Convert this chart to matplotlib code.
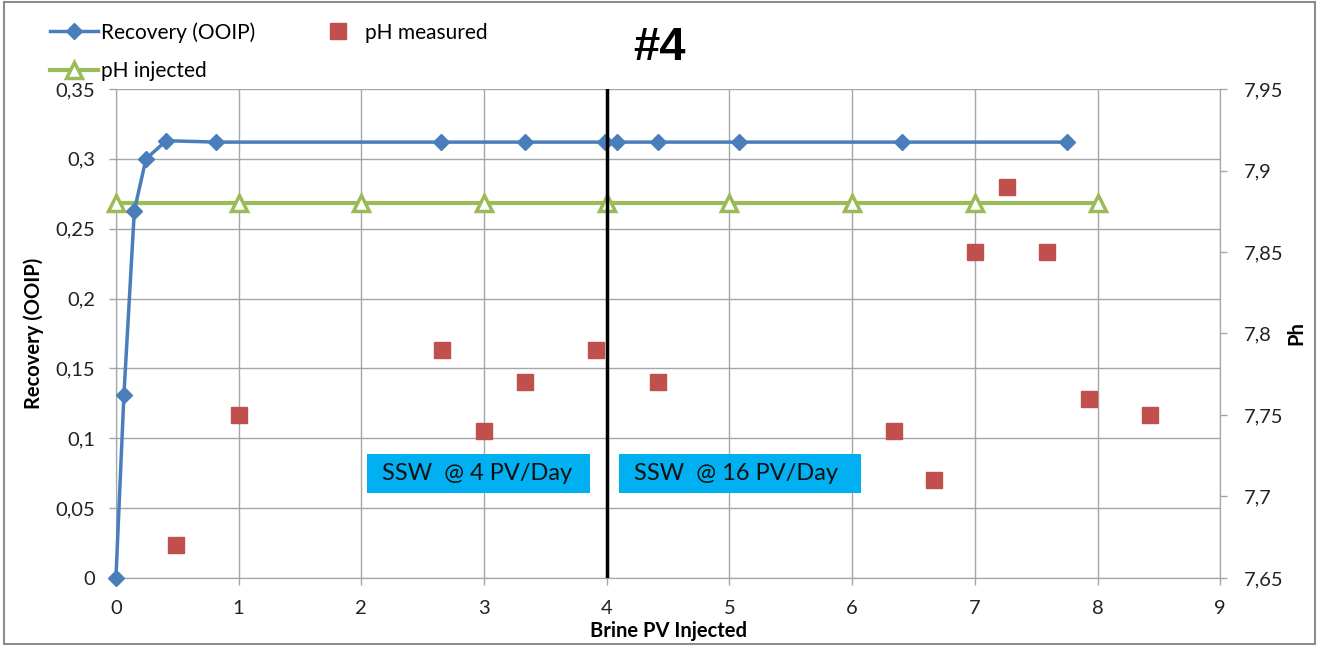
import matplotlib
matplotlib.use("Agg")
import matplotlib.pyplot as plt
from matplotlib.ticker import FuncFormatter, MultipleLocator
from matplotlib.patches import Rectangle

plt.rcParams['font.family'] = ['Lato', 'DejaVu Sans']

# Oil recovery vs. injected pore volumes
rec_pv = [0.0, 0.065, 0.15, 0.245, 0.41, 0.815, 2.65, 3.33, 3.99, 4.08, 4.42, 5.08, 6.41, 7.75]
rec_ooip = [0.0, 0.131, 0.263, 0.300, 0.313, 0.312, 0.312, 0.312, 0.312, 0.312, 0.312, 0.312, 0.312, 0.312]

# pH of injected brine
inj_pv = [0, 1, 2, 3, 4, 5, 6, 7, 8]
inj_ph = [7.88] * 9

# pH of effluent samples
meas_pv = [0.49, 1.0, 2.66, 3.0, 3.33, 3.91, 4.42, 6.34, 6.67, 7.0, 7.26, 7.59, 7.93, 8.43]
meas_ph = [7.67, 7.75, 7.79, 7.74, 7.77, 7.79, 7.77, 7.74, 7.71, 7.85, 7.89, 7.85, 7.76, 7.75]

x_ticks = list(range(0, 10))
switch_pv = 4

BLUE = '#4A7EBB'
GREEN = '#9BBB59'
RED = '#C0504D'
CYAN = '#00B0F0'
GRID = '#A6A6A6'

fig = plt.figure(figsize=(13.19, 6.46), dpi=100)
ax = fig.add_axes([0.0879, 0.1053, 0.8372, 0.7569])
ax2 = ax.twinx()

ax.set_xlim(0, 9)
ax.set_ylim(0, 0.35)
ax2.set_ylim(7.65, 7.95)
ax.set_xticks(x_ticks)
ax.yaxis.set_major_locator(MultipleLocator(0.05))
ax2.yaxis.set_major_locator(MultipleLocator(0.05))
dec_comma = FuncFormatter(lambda v, p: ('%.2f' % v).rstrip('0').rstrip('.').replace('.', ','))
ax.yaxis.set_major_formatter(dec_comma)
ax2.yaxis.set_major_formatter(dec_comma)

# gridlines follow the recovery (left) axis
ax.grid(True, color=GRID, linewidth=1.0)
ax.set_axisbelow(True)
for a in (ax, ax2):
    for s in a.spines.values():
        s.set_color(GRID)
    a.spines['top'].set_visible(False)
    a.tick_params(colors='#222222', labelsize=14.5, length=5, width=1, color=GRID, direction='out')
ax.tick_params(axis='x', pad=11)
ax.tick_params(axis='y', pad=10)
ax2.tick_params(axis='y', pad=12)

l_inj, = ax2.plot(inj_pv, inj_ph, color=GREEN, lw=3, marker='^', ms=11,
                  mfc='white', mec=GREEN, mew=2.5, label='pH injected', zorder=3, clip_on=False)
l_meas, = ax2.plot(meas_pv, meas_ph, ls='none', marker='s', ms=11, color=RED,
                   mec=RED, label='pH measured', zorder=3)
# recovery curve drawn on the top layer but in left-axis units
l_rec, = ax2.plot(rec_pv, rec_ooip, color=BLUE, lw=2.5, marker='D', ms=8,
                  label='Recovery (OOIP)', zorder=4, clip_on=False, transform=ax.transData)

ax2.axvline(switch_pv, color='black', lw=2.5, zorder=5)

ax.set_xlabel('Brine PV Injected', fontsize=14.5, fontweight='bold', labelpad=3)
ax.set_ylabel('Recovery (OOIP)', fontsize=14.5, fontweight='bold', labelpad=8)
ax2.set_ylabel('Ph', fontsize=14.5, fontweight='bold', labelpad=2)

fig.text(0.5, 0.925, '#4', fontsize=34, fontweight='bold', ha='center', va='center',
         family=['Liberation Sans', 'DejaVu Sans'])

# annotation boxes for the two injection rates
for x0, x1, txt in [(2.05, 3.86, 'SSW  @ 4 PV/Day'), (4.1, 6.07, 'SSW  @ 16 PV/Day')]:
    ax2.add_patch(Rectangle((x0, 0.061), x1 - x0, 0.0275, facecolor=CYAN, edgecolor='none',
                            zorder=6, transform=ax.transData))
    ax2.text(x0 + 0.12, 0.0745, txt, fontsize=17, va='center', ha='left', color='#111111',
             zorder=7, transform=ax.transData)

fig.legend(handles=[l_rec, l_inj, l_meas], loc='upper left', bbox_to_anchor=(0.024, 0.995),
           ncol=2, frameon=False, fontsize=15, handlelength=2.3, handletextpad=0.15,
           columnspacing=2.8, labelspacing=0.9)

fig.patches.append(Rectangle((0.003, 0.003), 0.994, 0.994, transform=fig.transFigure,
                             fill=False, edgecolor='#8C8C8C', lw=1.5))

fig.savefig('out.png', dpi=100)
